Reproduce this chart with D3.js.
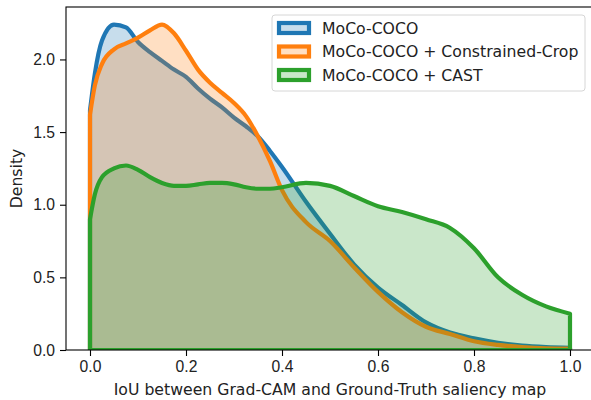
<!DOCTYPE html>
<html>
<head>
<meta charset="utf-8">
<script src="https://cdn.jsdelivr.net/npm/d3@7"></script>
<style>
    body { margin: 0; background: #fff; }
    svg { font-family: "DejaVu Sans", sans-serif; }
</style>
</head>
<body>
<div id="chart"></div>
<script>
// IoU grid the densities were read at
const iou = [0, 0.01, 0.025, 0.05, 0.075, 0.1, 0.125, 0.15, 0.175, 0.2, 0.225, 0.25, 0.275, 0.3, 0.325,
    0.35, 0.375, 0.4, 0.45, 0.5, 0.55, 0.6, 0.65, 0.7, 0.75, 0.8, 0.85, 0.9, 0.95, 1.0];

const densityMoco = [1.65, 1.90, 2.13, 2.24, 2.22, 2.12, 2.05, 1.99, 1.93, 1.88, 1.80, 1.73, 1.67, 1.60, 1.54,
    1.47, 1.37, 1.26, 1.02, 0.80, 0.59, 0.43, 0.31, 0.19, 0.12, 0.08, 0.05, 0.03, 0.02, 0.015];
const densityConstrained = [1.62, 1.82, 1.97, 2.07, 2.11, 2.15, 2.20, 2.24, 2.18, 2.06, 1.93, 1.84, 1.77, 1.70, 1.61,
    1.47, 1.30, 1.10, 0.88, 0.75, 0.57, 0.40, 0.26, 0.16, 0.11, 0.06, 0.035, 0.02, 0.012, 0.01];
const densityCast = [0.90, 1.07, 1.19, 1.25, 1.27, 1.24, 1.19, 1.15, 1.13, 1.13, 1.14, 1.15, 1.15, 1.14, 1.12,
    1.11, 1.11, 1.12, 1.15, 1.13, 1.06, 0.99, 0.95, 0.90, 0.84, 0.70, 0.50, 0.38, 0.30, 0.25];

const seriesNames = ["MoCo-COCO", "MoCo-COCO + Constrained-Crop", "MoCo-COCO + CAST"];
const seriesColors = ["#1f77b4", "#ff7f0e", "#2ca02c"];
const xTicks = [0, 0.2, 0.4, 0.6, 0.8, 1.0];
const yTicks = [0, 0.5, 1.0, 1.5, 2.0];

const width = 591, height = 400;
const margin = { top: 7, right: -3, bottom: 50, left: 66 };
const innerW = width - margin.left - margin.right;
const innerH = height - margin.top - margin.bottom;
const fontSize = "15.7px";

const svg = d3.select("#chart").append("svg")
    .attr("width", width)
    .attr("height", height);

const g = svg.append("g")
    .attr("transform", "translate(" + margin.left + "," + margin.top + ")");

const x = d3.scaleLinear().domain([-0.05, 1.05]).range([0, innerW]);
const y = d3.scaleLinear().domain([0, 2.361]).range([innerH, 0]);

g.append("clipPath").attr("id", "plot-clip")
    .append("rect").attr("width", innerW).attr("height", innerH);

const area = d3.area()
    .curve(d3.curveMonotoneX)
    .x((d, i) => x(iou[i]))
    .y0(y(0))
    .y1(d => y(d));

// filled KDE curves, drawn blue -> orange -> green
const layers = g.append("g").attr("clip-path", "url(#plot-clip)");
[densityMoco, densityConstrained, densityCast].forEach((vals, i) => {
    layers.append("path")
        .attr("d", area(vals))
        .attr("fill", seriesColors[i])
        .attr("fill-opacity", 0.25)
        .attr("stroke", seriesColors[i])
        .attr("stroke-width", 4.2)
        .attr("stroke-linejoin", "round");
});

// axes
const xAxis = d3.axisBottom(x).tickValues(xTicks).tickFormat(d3.format(".1f")).tickSize(6).tickPadding(5);
const yAxis = d3.axisLeft(y).tickValues(yTicks).tickFormat(d3.format(".1f")).tickSize(6).tickPadding(5);

g.append("g").attr("transform", "translate(0," + innerH + ")").call(xAxis);
g.append("g").call(yAxis);
g.selectAll(".domain").remove();
g.selectAll(".tick line").attr("stroke", "#000").attr("stroke-width", 1.1);
g.selectAll(".tick text").attr("fill", "#222").style("font-size", fontSize);

g.append("rect")
    .attr("width", innerW).attr("height", innerH)
    .attr("fill", "none").attr("stroke", "#000").attr("stroke-width", 1.1);

// labels
svg.append("text")
    .attr("x", margin.left + x(0.5))
    .attr("y", 395)
    .attr("text-anchor", "middle")
    .attr("fill", "#222")
    .style("font-size", fontSize)
    .text("IoU between Grad-CAM and Ground-Truth saliency map");

svg.append("text")
    .attr("transform", "translate(22," + (margin.top + innerH / 2) + ") rotate(-90)")
    .attr("text-anchor", "middle")
    .attr("fill", "#222")
    .style("font-size", fontSize)
    .text("Density");

// legend
const legend = svg.append("g").attr("transform", "translate(272,15)");
legend.append("rect")
    .attr("width", 313).attr("height", 76)
    .attr("rx", 3)
    .attr("fill", "#fff").attr("fill-opacity", 0.8)
    .attr("stroke", "#d6d6d6").attr("stroke-width", 1);

seriesNames.forEach((name, i) => {
    const row = legend.append("g").attr("transform", "translate(0," + (13 + i * 23.5) + ")");
    row.append("rect")
        .attr("x", 7).attr("y", -5)
        .attr("width", 30).attr("height", 10)
        .attr("fill", seriesColors[i]).attr("fill-opacity", 0.25)
        .attr("stroke", seriesColors[i]).attr("stroke-width", 4.2);
    row.append("text")
        .attr("x", 50).attr("y", 0)
        .attr("dy", "0.35em")
        .attr("fill", "#222")
        .style("font-size", fontSize)
        .text(name);
});
</script>
</body>
</html>
